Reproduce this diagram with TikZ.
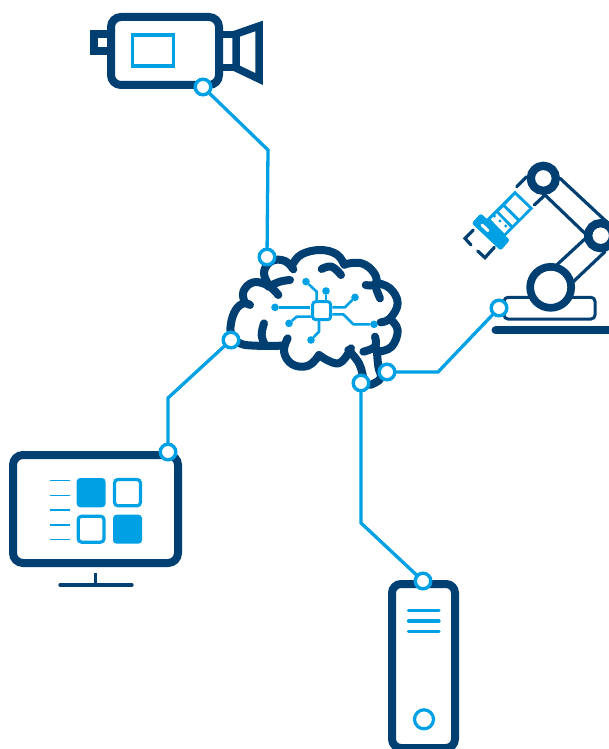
\documentclass[tikz,border=0pt]{standalone}
\definecolor{navy}{HTML}{003F72}
\definecolor{sky}{HTML}{00A0E4}
\tikzset{
  x=1pt,y=-1pt,
  port/.style={circle,draw=sky,fill=white,line width=3.4pt,minimum size=15.6pt,inner sep=0pt,outer sep=0pt},
  link/.style={draw=sky,line width=3.3pt},
  heavy/.style={draw=navy,line width=8pt},
  bluestroke/.style={draw=sky,line width=3.2pt},
  brainline/.style={draw=navy,line width=8pt,line cap=round,line join=round},
  wire/.style={draw=sky,line width=2.6pt,line join=round},
  dot/.style={circle,fill=sky,inner sep=0pt,outer sep=0pt,minimum size=7.6pt},
  chip/.style={draw=sky,fill=white,line width=3pt,rounded corners=3pt,minimum size=18pt,inner sep=0pt,outer sep=0pt},
  armline/.style={draw=navy,line width=3.2pt,line cap=round},
  zoomed/.style={x=0.33333pt,y=-0.33333pt}
}
\begin{document}
\begin{tikzpicture}
\clip (0,0) rectangle (609,749);
% camera
\draw[heavy,rounded corners=10pt] (111,17) rectangle (219,85);
\draw[heavy] (107,34.5) -- (94,34.5) -- (94,51) -- (107,51);
\draw[heavy,line width=7.5pt,line join=miter] (223,34.5) -- (236,34.5) (223,67.5) -- (236,67.5);
\draw[heavy,line width=7.5pt,line join=miter] (236,34) -- (259,26) -- (259,79) -- (236,68) -- cycle;
\draw[bluestroke] (132.5,35) rectangle (173.5,66);
% monitor
\draw[heavy,rounded corners=10pt] (13,455) rectangle (178,563);
\draw[navy,line width=3.2pt] (95.7,573) -- (95.7,585);
\draw[navy,line width=3.2pt,line cap=round] (60,585) -- (132,585);
\foreach \yy in {480.7,495.3,510,525,539.7}{\draw[sky,line width=1.3pt] (50,\yy) -- (69.5,\yy);}
\fill[sky,rounded corners=3.5pt] (76.7,478) rectangle (105.5,507.3);
\fill[sky,rounded corners=3.5pt] (113,514.7) rectangle (142,543.7);
\draw[bluestroke,rounded corners=3.5pt] (114.5,479.5) rectangle (140.5,505.8);
\draw[bluestroke,rounded corners=3.5pt] (78.2,516.2) rectangle (104,542.2);
% server
\draw[heavy,rounded corners=9pt] (392,584) rectangle (455,748);
\foreach \yy in {610.3,621,631.7}{\draw[sky,line width=3.2pt,line cap=round] (408.5,\yy) -- (439,\yy);}
\draw[bluestroke] (424,719.3) circle (9.5);
% robot
\begin{scope}[shift={(455,150)},zoomed]
\draw[armline] (315,85) -- (462,222);
\draw[armline] (270,135) -- (395,255);
\draw[armline] (395,262) -- (305,345);
\draw[armline] (450,305) -- (355,395);
\draw[armline] (185,110) -- (215,80);
\draw[armline] (238,165) -- (270,135);
\draw[navy,line width=3pt,rounded corners=4pt] (147,442) rectangle (420,507);
\draw[navy,line width=8.3pt,line cap=round] (122,541) -- (480,541);
\fill[white] (287,412) circle (62);
\draw[navy,line width=7.7pt] (287,412) circle (61.5);
\draw[navy,line width=8.3pt] (265,85) circle (37.5);
\draw[navy,line width=8.3pt] (437,257) circle (37.5);
\end{scope}
% wrist
\begin{scope}[shift={(460,185)},zoomed]
\draw[navy,line width=3.2pt,line cap=round,line join=miter] (40,135) -- (15,160) -- (33,180);
\draw[navy,line width=3.2pt,line cap=round,line join=miter] (103,187) -- (75,218) -- (53,198);
\fill[sky] (165,17) -- (220,70) -- (135,155) -- (80,102) -- cycle;
\fill[white] (165,30) -- (207,70) -- (178,100) -- (137,60) -- cycle;
\fill[white] (130,67) -- (170,107) -- (157,120) -- (117,80) -- cycle;
\fill[white] (110,85) -- (150,127) -- (133,145) -- (92,103) -- cycle;
\fill[sky] (103,93) circle (5) (120,108) circle (5) (137,123) circle (5);
\fill[sky,rounded corners=2.5pt] (35,115) -- (62,85) -- (150,165) -- (122,197) -- cycle;
\draw[white,line width=3pt,line cap=round] (66,120) -- (84,137);
\end{scope}
% brain
\begin{scope}[shift={(215,235)},zoomed]
\draw[brainline] plot[smooth,tension=0.7] coordinates {(105,210) (85,205) (62,225) (48,265) (50,300) (75,325) (120,332) (205,332)};
\draw[brainline] plot[smooth,tension=0.7] coordinates {(90,205) (85,170) (115,142) (160,152) (190,180)};
\draw[brainline] plot[smooth,tension=0.7] coordinates {(225,135) (195,140) (160,155)};
\draw[brainline] plot[smooth,tension=0.7] coordinates {(158,145) (147,110) (170,78) (210,78) (235,103)};
\draw[brainline] plot[smooth,tension=0.7] coordinates {(235,85) (260,58) (315,45) (365,58) (388,90)};
\draw[brainline] plot[smooth,tension=0.7] coordinates {(320,102) (350,95) (378,120)};
\draw[brainline] plot[smooth,tension=0.7] coordinates {(388,88) (440,85) (478,115) (482,148) (452,150)};
\draw[brainline] plot[smooth,tension=0.7] coordinates {(482,143) (525,160) (548,205) (525,250) (497,262)};
\draw[brainline] plot[smooth,tension=0.7] coordinates {(495,190) (485,165) (482,148)};
\draw[brainline] plot[smooth,tension=0.7] coordinates {(525,252) (548,285) (530,335) (490,350) };
\draw[brainline] plot[smooth,tension=0.7] coordinates {(480,305) (480,335) (445,350)};
\draw[brainline] plot[smooth,tension=0.7] coordinates {(485,340) (490,395) (497,430) (465,450)};
\draw[brainline] plot[smooth,tension=0.7] coordinates {(445,430) (432,385) (400,345)};
\draw[brainline] plot[smooth,tension=0.7] coordinates {(408,340) (370,385) (312,360)};
\draw[brainline] plot[smooth,tension=0.7] coordinates {(312,360) (280,392) (232,388) (207,350) (218,310)};
\draw[brainline] plot[smooth,tension=0.7] coordinates {(150,330) (140,300) (147,265)};
\node[chip] (cpu) at (320,227) {};
\node[dot] (d1) at (180,217) {};
\node[dot] (d2) at (222,265) {};
\node[dot] (d3) at (273,140) {};
\node[dot] (d4) at (333,168) {};
\node[dot] (d5) at (420,187) {};
\node[dot] (d6) at (477,268) {};
\node[dot] (d7) at (288,315) {};
\coordinate (t3) at (305,170);
\coordinate (t2) at (245,245);
\coordinate (t5) at (390,217);
\coordinate (t6a) at (415,268);
\coordinate (t6b) at (385,238);
\coordinate (t7) at (312,290);
\draw[wire] (d1) -- (285,217);
\draw[wire] (d2) -- (t2) -- (290,245);
\draw[wire] (d3) -- (t3) -- (305,197);
\draw[wire] (d4) -- (333,197);
\draw[wire] (d5) -- (t5) -- (352,217);
\draw[wire] (d6) -- (t6a) -- (t6b) -- (352,238);
\draw[wire] (d7) -- (t7) -- (312,258);
\end{scope}
% ports and connectors
\node[port] (camP) at (203,87) {};
\node[port] (brT) at (267,257) {};
\node[port] (brL) at (231,340) {};
\node[port] (monP) at (168,452) {};
\node[port] (brB) at (361,383) {};
\node[port] (srvP) at (423,581) {};
\node[port] (brR) at (387,372) {};
\node[port] (robP) at (499,308) {};
\coordinate (k1) at (268,150);
\coordinate (k2) at (168,398);
\coordinate (k3) at (361,523);
\coordinate (k4) at (438,372);
\draw[link] (camP) -- (k1) -- (brT);
\draw[link] (brL) -- (k2) -- (monP);
\draw[link] (brB) -- (k3) -- (srvP);
\draw[link] (brR) -- (k4) -- (robP);
\end{tikzpicture}
\end{document}
